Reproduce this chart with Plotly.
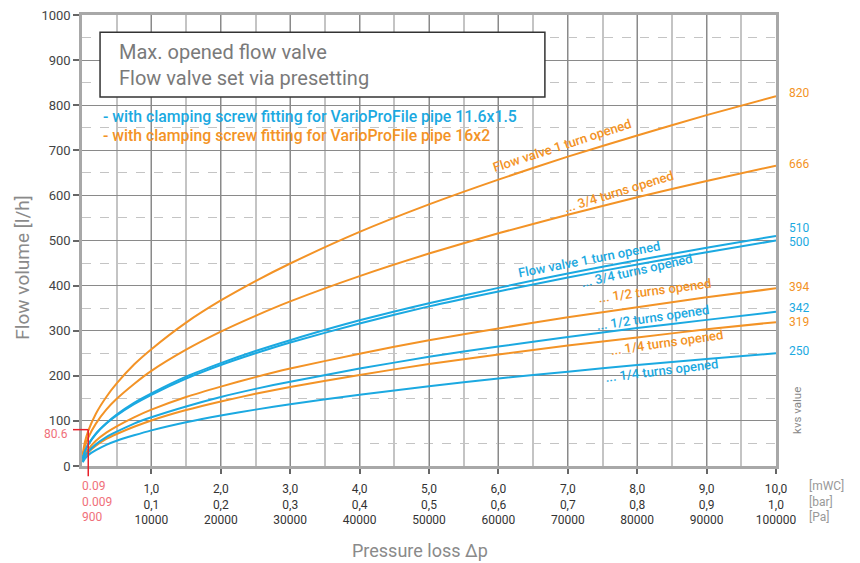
import plotly.graph_objects as go

# ---- data ----
dp_mwc = [0.01, 0.04, 0.09, 0.2, 0.35, 0.5, 0.75, 1, 1.5, 2, 2.5, 3, 4, 5, 6, 7, 8, 9, 10]

o_1turn = [26, 52, 78, 116, 153, 183, 225, 259, 318, 367, 410, 449, 519, 580, 635, 686, 733, 778, 820]
o_34 = [21, 42, 63, 94, 125, 149, 182, 211, 258, 298, 333, 365, 421, 471, 516, 557, 596, 632, 666]
o_12 = [12, 25, 37, 56, 74, 88, 108, 125, 153, 176, 197, 216, 249, 279, 305, 330, 352, 374, 394]
o_14 = [10, 20, 30, 45, 60, 71, 87, 101, 124, 143, 160, 175, 202, 226, 247, 267, 285, 303, 319]

b_1turn = [16, 32, 48, 72, 95, 114, 140, 161, 198, 228, 255, 279, 323, 361, 395, 427, 456, 484, 510]
b_34 = [16, 32, 47, 71, 94, 112, 137, 158, 194, 224, 250, 274, 316, 354, 387, 418, 447, 474, 500]
b_12 = [11, 22, 32, 48, 64, 76, 94, 108, 132, 153, 171, 187, 216, 242, 265, 286, 306, 324, 342]
b_14 = [8, 16, 24, 35, 47, 56, 68, 79, 97, 112, 125, 137, 158, 177, 194, 209, 224, 237, 250]

x_ticks = [1, 2, 3, 4, 5, 6, 7, 8, 9, 10]
tick_mwc = ["1,0", "2,0", "3,0", "4,0", "5,0", "6,0", "7,0", "8,0", "9,0", "10,0"]
tick_bar = ["0,1", "0,2", "0,3", "0,4", "0,5", "0,6", "0,7", "0,8", "0,9", "1,0"]
tick_pa = ["10000", "20000", "30000", "40000", "50000", "60000", "70000", "80000", "90000", "100000"]

kvs_labels = ["820", "666", "510", "500", "394", "342", "319", "250"]
kvs_label_y = [827, 670, 527, 497, 398, 350, 320, 255]

marker_dp = 0.09
marker_q = 80.6

BLUE = "#1ba9e1"
ORANGE = "#f39326"
RED = "#e8202a"
PINK = "#f0707a"
FONT = "Roboto"

fig = go.Figure()

series = [
    (o_1turn, ORANGE), (o_34, ORANGE), (o_12, ORANGE), (o_14, ORANGE),
    (b_1turn, BLUE), (b_34, BLUE), (b_12, BLUE), (b_14, BLUE),
]
for ys, col in series:
    fig.add_trace(go.Scatter(x=dp_mwc, y=ys, mode="lines",
                             line=dict(color=col, width=2, shape="spline", smoothing=0.6),
                             hoverinfo="skip", showlegend=False))

# the page adds an 8px body margin, so margins are reduced accordingly
fig.update_layout(
    width=860, height=563,
    margin=dict(l=74, r=92, t=7, b=105),
    paper_bgcolor="white", plot_bgcolor="white",
    font=dict(family=FONT, color="#444"),
    showlegend=False,
)

fig.update_xaxes(
    range=[0, 10],
    tickvals=x_ticks,
    ticktext=[f"{a}<br>{b}<br>{c}" for a, b, c in zip(tick_mwc, tick_bar, tick_pa)],
    tickfont=dict(size=12, color="#333"),
    ticks="outside", ticklen=5, tickcolor="#666", tickwidth=1.5,
    ticklabelstandoff=5, ticklabeloverflow="allow",
    showgrid=True, gridcolor="#8a8a8a", gridwidth=1,
    minor=dict(dtick=0.5, showgrid=True, gridcolor="#c4c4c4", gridwidth=1.5, ticks=""),
    showline=True, linecolor="#a8a8a8", linewidth=2.5, mirror=True,
    zeroline=False, automargin=False,
)
fig.update_yaxes(
    range=[0, 1000],
    dtick=100,
    tickfont=dict(size=13, color="#444"),
    ticks="outside", ticklen=6, tickcolor="#666", tickwidth=1.5,
    ticklabeloverflow="allow",
    showgrid=True, gridcolor="#8a8a8a", gridwidth=1,
    minor=dict(dtick=50, showgrid=True, gridcolor="#c4c4c4", gridwidth=1.2, griddash="dash", ticks=""),
    showline=True, linecolor="#a8a8a8", linewidth=2.5, mirror=True,
    zeroline=False, automargin=False,
)

# text box
fig.add_shape(type="rect", xref="paper", yref="paper",
              x0=0.026, x1=0.667, y0=0.818, y1=0.962,
              line=dict(color="#333", width=1.5), fillcolor="white", layer="above")

ann = []
ann.append(dict(text="Max. opened flow valve", xref="paper", yref="paper", x=0.050, y=0.918,
                xanchor="left", yanchor="middle", showarrow=False,
                font=dict(size=20, color="#7a7a7a")))
ann.append(dict(text="Flow valve set via presetting", xref="paper", yref="paper", x=0.050, y=0.860,
                xanchor="left", yanchor="middle", showarrow=False,
                font=dict(size=20, color="#7a7a7a")))
ann.append(dict(text="- with clamping screw fitting for VarioProFile pipe 11.6x1.5", xref="paper", yref="paper",
                x=0.027, y=0.774, xanchor="left", yanchor="middle", showarrow=False,
                font=dict(size=15.8, color=BLUE, weight=500)))
ann.append(dict(text="- with clamping screw fitting for VarioProFile pipe 16x2", xref="paper", yref="paper",
                x=0.027, y=0.732, xanchor="left", yanchor="middle", showarrow=False,
                font=dict(size=15.8, color=ORANGE, weight=500)))

# curve labels
curve_labels = [
    ("Flow valve 1 turn opened", 6.92, 710, -18, ORANGE),
    ("... 3/4 turns opened", 7.74, 608, -17, ORANGE),
    ("Flow valve 1 turn opened", 7.30, 458, -11, BLUE),
    ("... 3/4 turns opened", 8.00, 433, -12.5, BLUE),
    ("... 1/2 turns opened", 8.26, 389, -7.5, ORANGE),
    ("... 1/2 turns opened", 8.23, 329, -8, BLUE),
    ("... 1/4 turns opened", 8.43, 274, -8, ORANGE),
    ("... 1/4 turns opened", 8.36, 212, -7, BLUE),
]
for t, x, y, a, c in curve_labels:
    ann.append(dict(text=t, x=x, y=y, textangle=a, showarrow=False,
                    xanchor="center", yanchor="middle",
                    font=dict(size=13, color=c, weight=500)))

# kvs value labels
kvs_cols = [ORANGE, ORANGE, BLUE, BLUE, ORANGE, BLUE, ORANGE, BLUE]
for t, y, c in zip(kvs_labels, kvs_label_y, kvs_cols):
    ann.append(dict(text=t, x=10, y=y, xanchor="left", yanchor="middle", xshift=11,
                    showarrow=False, font=dict(size=12, color=c)))
ann.append(dict(text="kvs value", xref="paper", yref="paper", x=1.03, y=0.124,
                xanchor="center", yanchor="middle",
                textangle=-90, showarrow=False, font=dict(size=11.5, color="#888")))

# axis titles
ann.append(dict(text="Flow volume [l/h]", xref="paper", yref="paper", x=-0.087, y=0.439,
                xanchor="center", yanchor="middle",
                textangle=-90, showarrow=False, font=dict(size=19, color="#8a8a8a")))
ann.append(dict(text="Pressure loss Δp", xref="paper", yref="paper", x=0.487, y=-0.188,
                xanchor="center", yanchor="middle",
                showarrow=False, font=dict(size=18, color="#8a8a8a")))

# unit labels
ann.append(dict(text="[mWC]<br>[bar]<br>[Pa]", xref="paper", yref="paper", x=1.045, y=-0.025,
                xanchor="left", yanchor="top", align="left", showarrow=False,
                font=dict(size=12, color="#999")))
# red marker labels
ann.append(dict(text="0.09<br>0.009<br>900", xref="paper", yref="paper", x=-0.003, y=-0.025,
                xanchor="left", yanchor="top", align="left", showarrow=False,
                font=dict(size=12, color=PINK)))
ann.append(dict(text="80.6", xref="paper", yref="y", x=-0.017, y=marker_q, yshift=-4,
                xanchor="right", yanchor="middle", showarrow=False,
                font=dict(size=12, color=PINK)))
fig.update_layout(annotations=ann)

# red marker lines
fig.add_shape(type="line", xref="x", yref="paper", x0=marker_dp, x1=marker_dp,
              y0=-0.023, y1=marker_q / 1000, line=dict(color=RED, width=1.5), layer="above")
fig.add_shape(type="line", xref="paper", yref="y", x0=-0.013, x1=marker_dp / 10,
              y0=marker_q, y1=marker_q, line=dict(color=RED, width=1.5), layer="above")

fig.write_html("out.html")
